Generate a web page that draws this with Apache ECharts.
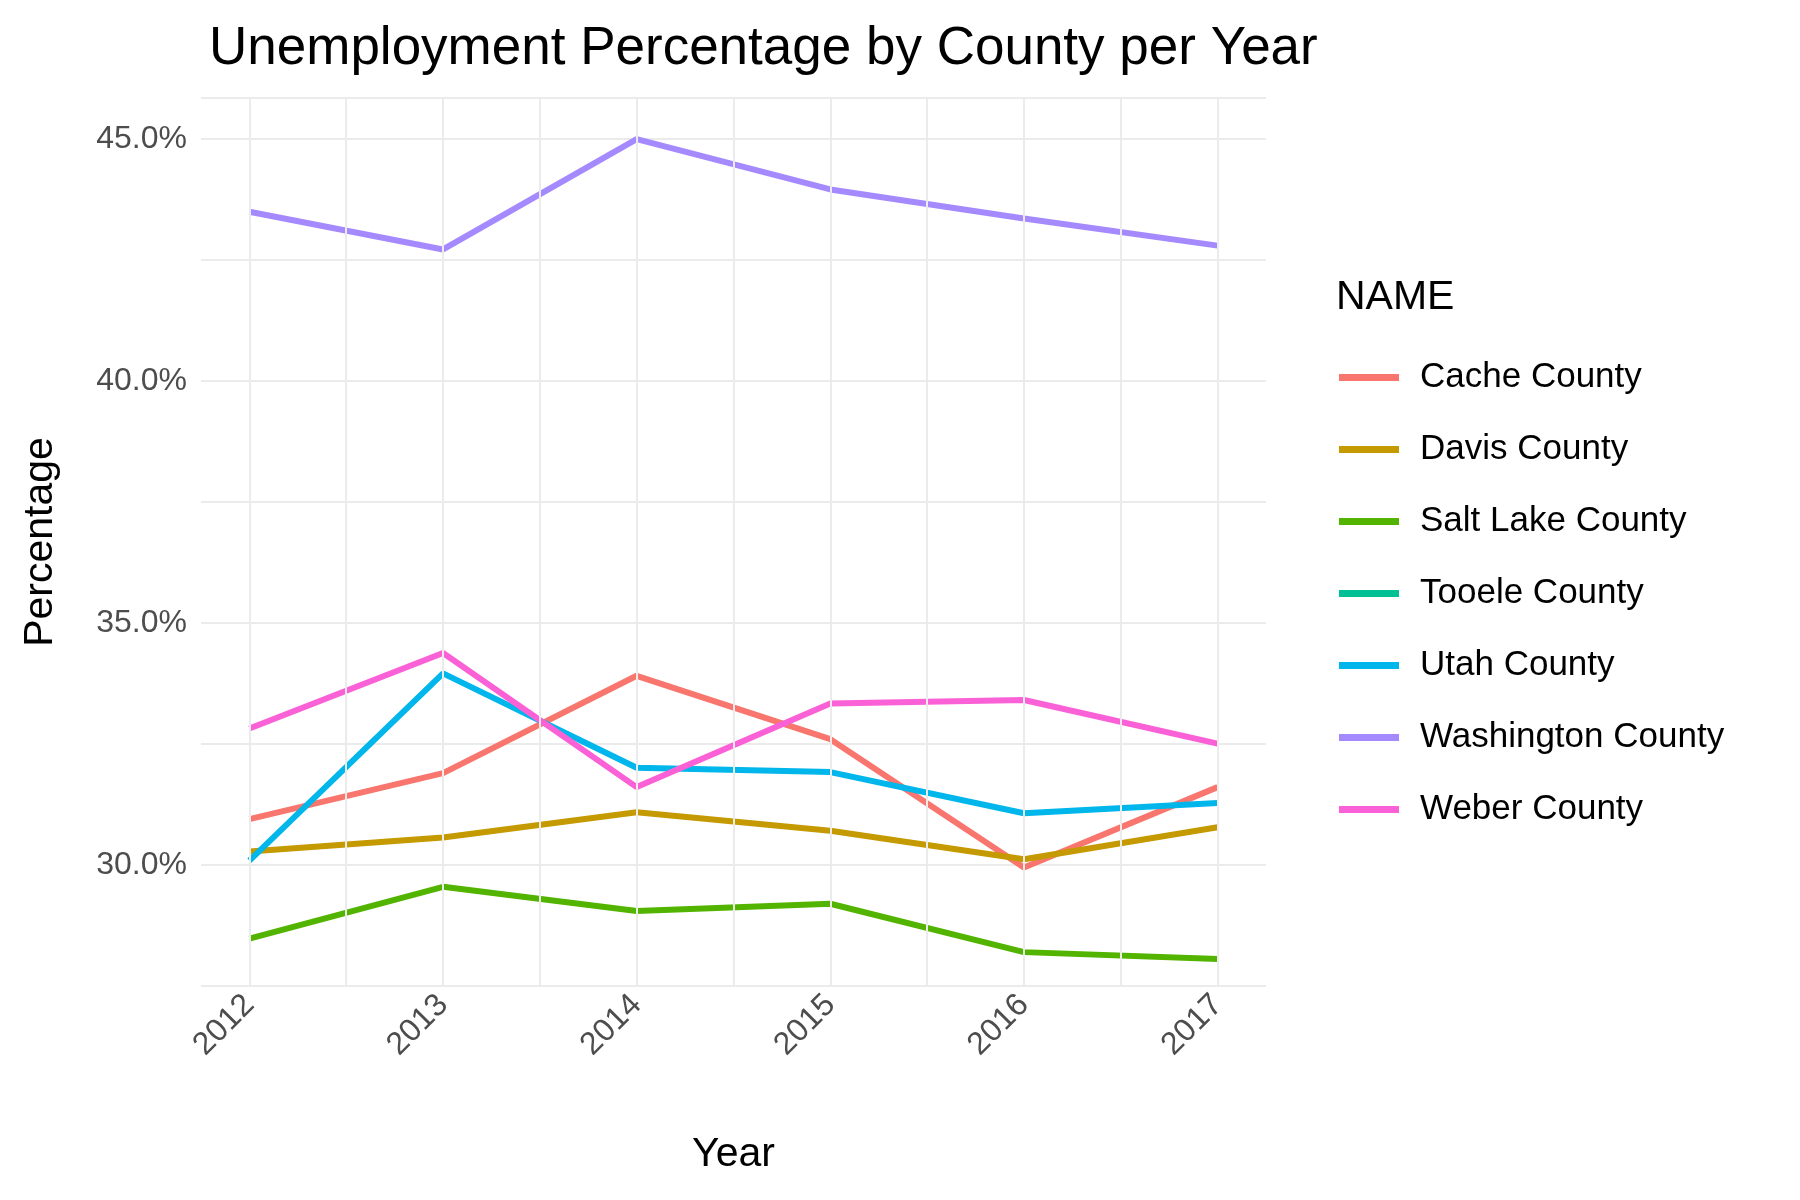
<!DOCTYPE html>
<html><head><meta charset="utf-8">
<script src="https://cdn.jsdelivr.net/npm/echarts@6/dist/echarts.min.js"></script>
<style>html,body{margin:0;background:#fff}#chart{width:1800px;height:1200px}</style>
</head><body><div id="chart"></div>
<script>
// values
const years = [2012, 2013, 2014, 2015, 2016, 2017];
const counties = ['Cache County', 'Davis County', 'Salt Lake County', 'Tooele County', 'Utah County', 'Washington County', 'Weber County'];
const colors = ['#F8766D', '#C49A00', '#53B400', '#00C094', '#00B6EB', '#A58AFF', '#FB61D7'];
const cache = [30.95, 31.9, 33.91, 32.6, 29.95, 31.61];
const davis = [30.28, 30.57, 31.09, 30.71, 30.12, 30.78];
const saltLake = [28.48, 29.55, 29.05, 29.2, 28.2, 28.06];
const tooele = [];
const utah = [30.09, 33.96, 32.01, 31.92, 31.07, 31.28];
const washington = [43.5, 42.72, 45.0, 43.96, 43.36, 42.8];
const weber = [32.82, 34.38, 31.61, 33.34, 33.41, 32.51];
const xGrid = [2012, 2012.5, 2013, 2013.5, 2014, 2014.5, 2015, 2015.5, 2016, 2016.5, 2017];

const values = [cache, davis, saltLake, tooele, utah, washington, weber];
const font = 'Arial, "Liberation Sans", sans-serif';
let series = [{
    type: 'line', data: [], silent: true,
    markLine: {
        silent: true, symbol: 'none', label: {show: false},
        lineStyle: {color: '#ebebeb', type: 'solid', width: 2},
        data: xGrid.map(v => ({xAxis: v}))
    }
}];
counties.forEach((c, i) => {
    series.push({
        name: c, type: 'line', showSymbol: false, z: 3,
        lineStyle: {width: 6, color: colors[i]}, itemStyle: {color: colors[i]},
        data: values[i].map((v, j) => [years[j], v])
    });
});
const chart = echarts.init(document.getElementById('chart'));
chart.setOption({
    animation: false,
    title: [
        {text: 'Unemployment Percentage by County per Year', left: 204, top: 18,
         textStyle: {fontFamily: font, fontSize: 53, fontWeight: 'normal', color: '#000'}},
        {text: 'NAME', left: 1331, top: 272,
         textStyle: {fontFamily: font, fontSize: 41, fontWeight: 'normal', color: '#000'}}
    ],
    legend: {
        orient: 'vertical', left: 1334, top: 355, itemGap: 37, icon: 'rect',
        itemWidth: 60, itemHeight: 7, data: counties,
        textStyle: {fontFamily: font, fontSize: 35, color: '#000', padding: [0, 0, 0, 16]}
    },
    grid: {left: 201, right: 534, top: 98, bottom: 214},
    xAxis: {
        type: 'value', min: 2011.75, max: 2017.25, interval: 0.25,
        name: 'Year', nameLocation: 'middle', nameGap: 148,
        nameTextStyle: {fontFamily: font, fontSize: 41, color: '#000'},
        axisLine: {show: false}, axisTick: {show: false}, splitLine: {show: false},
        axisLabel: {
            rotate: 45, margin: 14, fontFamily: font, fontSize: 32, color: '#4d4d4d',
            formatter: v => Number.isInteger(v) ? String(v) : ''
        }
    },
    yAxis: {
        type: 'value', min: 27.5, max: 45.85, interval: 2.5,
        name: 'Percentage', nameLocation: 'middle', nameGap: 140,
        nameTextStyle: {fontFamily: font, fontSize: 41, color: '#000'},
        axisLine: {show: false}, axisTick: {show: false},
        splitLine: {lineStyle: {color: '#ebebeb', width: 2}},
        axisLabel: {
            fontFamily: font, fontSize: 32, color: '#4d4d4d', margin: 14,
            formatter: v => (v % 5 === 0) ? v.toFixed(1) + '%' : ''
        }
    },
    series: series
});
</script></body></html>
